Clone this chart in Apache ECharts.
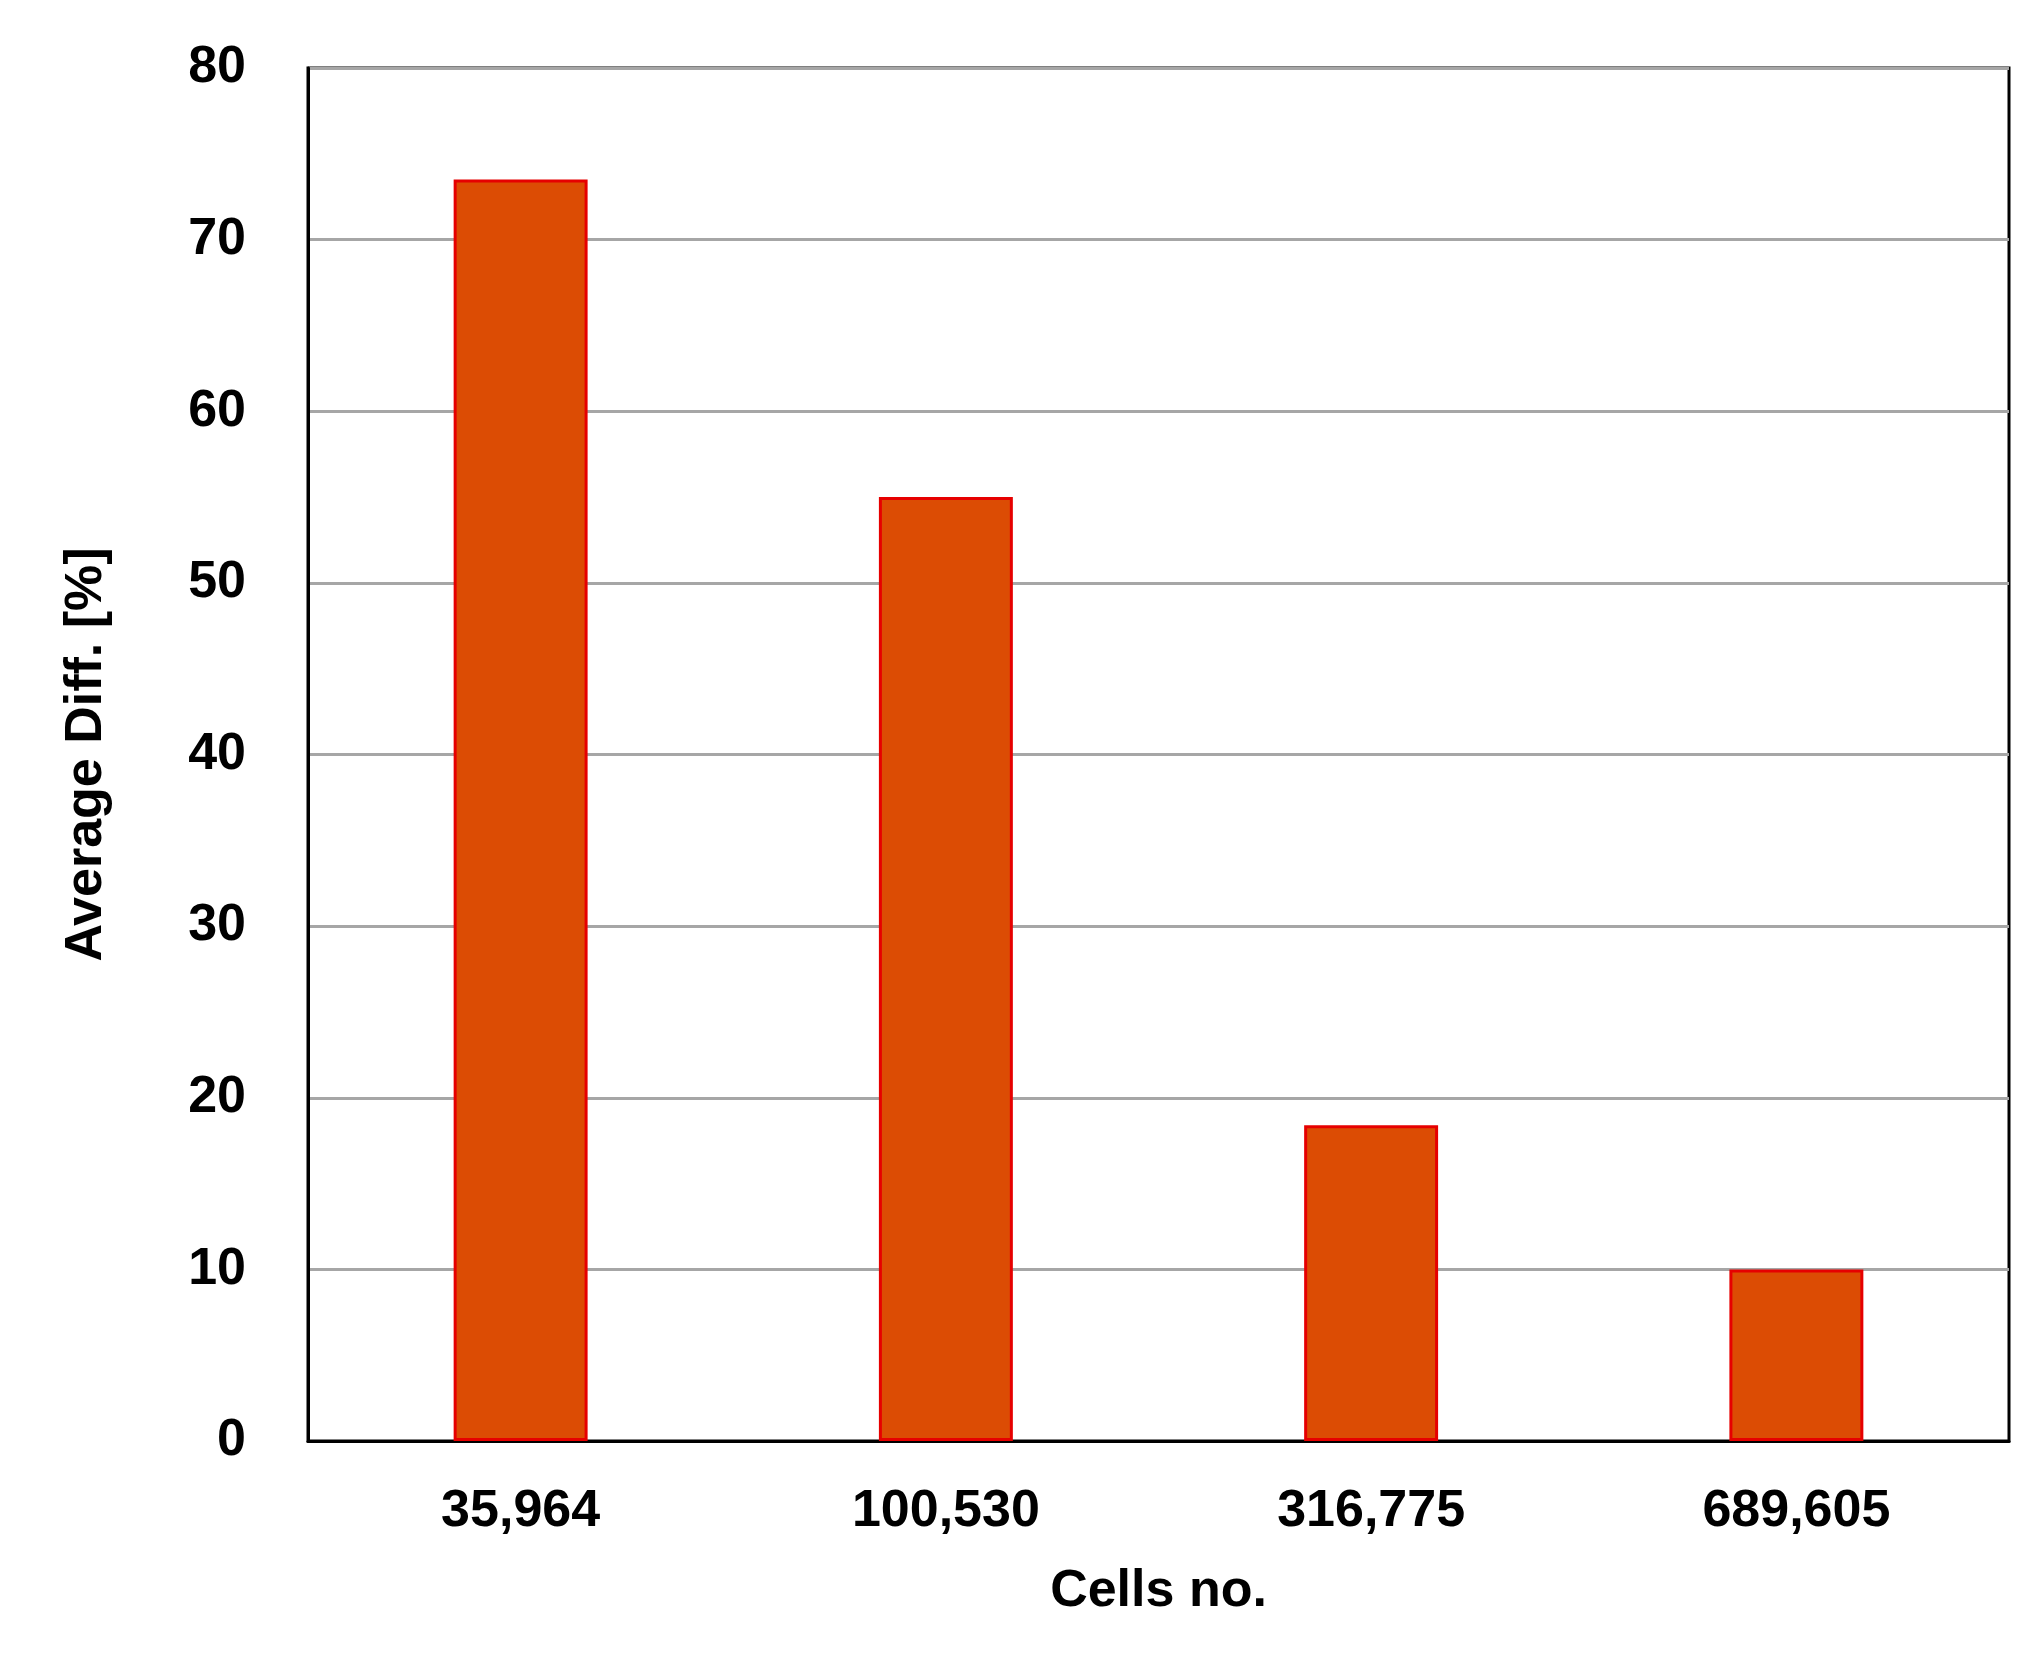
<!DOCTYPE html><html><head><meta charset="utf-8"><script src="https://cdn.jsdelivr.net/npm/echarts@6/dist/echarts.min.js"></script>
<style>html,body{margin:0;background:#fff}#c{width:2034px;height:1659px}</style></head><body><div id="c"></div><script>
const categories=['35,964','100,530','316,775','689,605'];
const values=[73.5,55,18.4,10];
const yTicks={min:0,max:80,interval:10};
const ch=echarts.init(document.getElementById('c'));
const f='"Liberation Sans", Arial, sans-serif';
ch.setOption({
 grid:{left:308,right:25,top:68,bottom:218,show:true,borderColor:'#000',borderWidth:3},
 xAxis:{type:'category',data:categories,name:'Cells no.',nameLocation:'middle',nameGap:125,
  nameTextStyle:{fontFamily:f,fontWeight:'bold',fontSize:52,color:'#000'},
  axisLine:{lineStyle:{color:'#000',width:3}},axisTick:{show:false},
  axisLabel:{fontFamily:f,fontWeight:'bold',fontSize:52,color:'#000',margin:45}},
 yAxis:{type:'value',min:yTicks.min,max:yTicks.max,interval:yTicks.interval,name:'Average Diff. [%]',nameLocation:'middle',nameGap:195,
  nameTextStyle:{fontFamily:f,fontWeight:'bold',fontSize:52,color:'#000'},
  axisLine:{show:true,lineStyle:{color:'#000',width:3}},axisTick:{show:false},
  axisLabel:{fontFamily:f,fontWeight:'bold',fontSize:52,color:'#000',margin:62},
  splitLine:{lineStyle:{color:'#a6a6a6',width:3}}},
 series:[{type:'bar',data:values,barWidth:'31.5%',itemStyle:{color:'#dc4c04',borderColor:'#e60000',borderWidth:3}}]
});
</script></body></html>
